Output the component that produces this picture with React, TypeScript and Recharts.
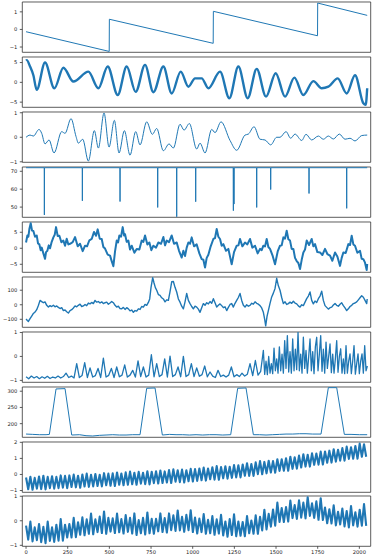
import { LineChart, Line, XAxis, YAxis, ReferenceArea } from "recharts";

type Pt = { x: number; y: number };

const X_TICKS = [0, 250, 500, 750, 1000, 1250, 1500, 1750, 2000];
const X_DOMAIN: [number, number] = [-22.4, 2068];

// panel 1: sawtooth
const p1Trace: [number, number][] = [
  [0, -0.13], [499, -1.25], [500, 0.58], [1123, -0.79], [1124, 1.03],
  [1749, -0.36], [1750, 1.5], [2047, 0.8],
];

// panel 2: noisy oscillation, read as its peaks and troughs
const p2Trace: [number, number][] = [
  [0, 5.5], [4, 5.6], [24, 4.0], [44, 1.8], [64, -1.9], [114, 5.0], [170, -1.5],
  [224, 3.7], [284, 0.2], [374, 2.7], [434, -1.5], [490, 4.0], [550, -3.2], [604, 4.0],
  [658, -2.4], [714, 4.4], [764, -2.5], [824, 4.0], [874, -2.8], [928, 2.7], [974, -1.1],
  [1014, 1.0], [1054, 1.0], [1094, -1.5], [1164, 2.7], [1220, -4.0], [1274, 4.0],
  [1330, -4.0], [1384, 3.4], [1440, -3.6], [1498, 2.3], [1554, -3.6], [1610, 1.2],
  [1664, -3.2], [1724, 0.3], [1774, -1.5], [1814, -1.1], [1870, 1.0], [1924, -2.8],
  [1974, 1.8], [2024, -5.3], [2038, -5.7], [2047, -1.5],
];

// panel 3: smooth wavelet-like signal (extrema)
const p3Trace: [number, number][] = [
  [0, 0], [24, 0.09], [44, 0.05], [78, 0.32], [94, 0.16], [114, -0.27], [138, -0.11],
  [168, -0.64], [214, 0.23], [234, 0.16], [270, 0.76], [300, 0.03], [314, -0.24],
  [340, -0.08], [374, -0.97], [410, 0.27], [434, -0.44], [468, 0.99], [498, -0.4],
  [530, 0.69], [558, -0.64], [590, 0.27], [624, -0.73], [658, 0.23], [684, -0.31],
  [724, 0.63], [758, 0.12], [784, 0.36], [824, -0.55], [858, -0.27], [884, -0.44],
  [924, 0.53], [948, 0.29], [980, 0.56], [1024, -0.48], [1044, -0.24], [1074, -0.64],
  [1114, 0.32], [1134, 0.19], [1170, 0.63], [1224, -0.13], [1264, -0.53], [1314, 0.09],
  [1334, 0.13], [1368, 0.43], [1404, -0.08], [1434, -0.11], [1468, -0.31], [1504, 0],
  [1524, 0], [1560, 0.23], [1588, -0.04], [1614, 0.13], [1654, -0.13], [1680, 0.12],
  [1714, -0.11], [1754, 0.05], [1784, -0.08], [1814, 0.05], [1844, -0.07], [1880, 0.13],
  [1914, -0.08], [1944, -0.04], [1974, -0.15], [2014, 0.07], [2047, 0.09],
];

// panel 4: flat level with single-sample drops
const p4Level = 72;
const p4SpikeX = [110, 338, 564, 790, 904, 1018, 1244, 1248, 1384, 1468, 1698, 1924];
const p4SpikeY = [45.6, 53.5, 53.1, 49.8, 44.6, 53, 48, 51.7, 49.8, 59.8, 57.6, 49.3];

// panel 5: random walk
const p5Trace: [number, number][] = [
  [0, 1.8], [8, 4.0], [14, 3.6], [20, 6.0], [28, 7.8], [36, 5.5], [44, 5.4], [54, 3.6],
  [64, 4.0], [72, 1.5], [80, 1.2], [88, -0.6], [94, 0.2], [104, -1.6], [114, -3.3],
  [120, -1.2], [128, -0.8], [136, 0.9], [144, 0.0], [154, 2.0], [164, 3.4], [172, 4.2],
  [180, 6.6], [190, 3.8], [200, 3.9], [212, 1.9], [224, 2.4], [234, 0.8], [244, 3.0],
  [254, 1.2], [264, 1.4], [280, 1.9], [294, 3.5], [310, 0.6], [324, 1.4], [340, -0.9],
  [354, 0.8], [366, 0.6], [380, 2.5], [394, 2.9], [408, 5.1], [420, 3.9], [430, 5.9],
  [442, 3.0], [454, 2.9], [464, 0.4], [474, -0.1], [490, -2.0], [504, -2.3], [514, -4.0],
  [524, -5.6], [534, -1.0], [544, 2.4], [552, 1.8], [560, 4.0], [570, 3.6], [580, 6.6],
  [588, 4.0], [594, 4.4], [604, 2.0], [614, 2.4], [624, -0.4], [634, 0.8], [650, -1.4],
  [664, -0.2], [680, -0.4], [694, 2.4], [704, 2.0], [714, 4.0], [728, 1.2], [740, 1.8],
  [752, -0.6], [764, 0.8], [780, 0.2], [794, 1.8], [810, 1.4], [824, 3.5], [834, 0.9],
  [844, 2.4], [858, 1.9], [874, 4.0], [888, 1.4], [904, 1.8], [918, -0.8], [934, -2.9],
  [944, -0.8], [954, -2.4], [964, 0.2], [974, 1.8], [984, 1.4], [994, 3.4], [1008, 0.6],
  [1024, 1.2], [1040, -1.6], [1054, -3.4], [1064, -3.6], [1074, -6.0], [1084, -3.0],
  [1094, -2.0], [1108, 0.6], [1124, 2.9], [1134, 3.2], [1144, 6.0], [1154, 3.6],
  [1164, 2.9], [1174, 0.8], [1184, 1.3], [1200, -0.8], [1214, -0.2], [1224, -2.6],
  [1234, -5.0], [1248, -1.2], [1264, 0.8], [1274, 0.9], [1284, 2.9], [1298, 0.6],
  [1314, 1.8], [1328, 1.2], [1344, 2.9], [1358, 0.2], [1374, 0.8], [1390, -1.6],
  [1404, -0.2], [1414, -0.6], [1424, 0.8], [1434, 0.6], [1444, 2.9], [1454, 0.4],
  [1464, -0.2], [1480, -2.4], [1494, -5.0], [1510, -1.0], [1524, 0.8], [1534, 0.9],
  [1544, 3.4], [1554, 3.0], [1564, 5.5], [1574, 2.8], [1584, 2.4], [1594, -0.2],
  [1604, -0.2], [1614, -3.0], [1624, -4.0], [1634, -4.6], [1644, -6.5], [1654, -3.6],
  [1664, -1.3], [1674, -0.4], [1684, 2.4], [1698, 1.0], [1714, 2.9], [1724, 0.6],
  [1734, 1.3], [1748, -1.2], [1764, -1.3], [1778, -2.1], [1794, -0.2], [1808, -1.8],
  [1824, -2.3], [1838, -3.9], [1854, -1.3], [1868, -2.6], [1884, -5.5], [1894, -3.0],
  [1904, -1.3], [1918, -1.5], [1934, 1.3], [1944, 1.0], [1954, 3.9], [1964, 1.2],
  [1974, 0.8], [1988, -1.4], [2004, -0.8], [2014, -3.3], [2024, -3.4], [2034, -4.5],
  [2044, -6.8], [2047, -4.9],
];

// panel 6: drifting series with bursts
const p6Trace: [number, number][] = [
  [0, -98], [8, -108], [14, -115], [24, -96], [34, -78], [44, -60], [54, -50], [64, -34],
  [74, -5], [84, 30], [94, 22], [104, 14], [114, 20], [124, -4], [134, -16], [144, -6],
  [154, -12], [164, -3], [174, -14], [184, -8], [194, -18], [204, -26], [214, -20],
  [224, -40], [234, -36], [244, -48], [254, -57], [264, -40], [274, -34], [284, -22],
  [294, -8], [304, -14], [314, -4], [324, 4], [334, -12], [344, -8], [354, 2], [364, -6],
  [374, 12], [384, 6], [394, 16], [404, 8], [414, 30], [424, 18], [434, 22], [444, 12],
  [454, 20], [464, 8], [474, 14], [484, 18], [494, 4], [504, 12], [514, 22], [524, 14],
  [534, -4], [544, -16], [554, -10], [564, -26], [574, -28], [584, -18], [594, -32],
  [604, -20], [614, -28], [624, -42], [634, -36], [644, -52], [654, -40], [664, -44],
  [674, -28], [684, -32], [694, -12], [704, -16], [714, 2], [724, -4], [734, 16],
  [742, 40], [750, 120], [760, 186], [768, 150], [776, 118], [784, 100], [794, 70],
  [804, 64], [814, 48], [824, 40], [834, 20], [844, 34], [854, 30], [864, 90], [874, 158],
  [884, 160], [894, 120], [904, 88], [914, 40], [924, 18], [934, -10], [944, -28],
  [954, 20], [964, 78], [974, 30], [984, 8], [994, -12], [1004, -28], [1014, -10],
  [1024, -16], [1034, -30], [1044, -52], [1054, -20], [1064, 8], [1074, -4], [1084, 14],
  [1094, 6], [1104, 22], [1114, 10], [1124, 42], [1134, 14], [1144, -16], [1154, -4],
  [1164, 6], [1174, -6], [1184, -20], [1194, -14], [1204, -40], [1214, -18], [1224, 2],
  [1234, 8], [1244, -16], [1254, 10], [1264, 30], [1274, 50], [1284, 78], [1294, 30],
  [1304, -4], [1314, -16], [1324, 0], [1334, -10], [1344, -4], [1354, 10], [1364, 4],
  [1374, 20], [1384, 10], [1394, 4], [1404, -6], [1414, -22], [1424, -52], [1432, -100],
  [1438, -145], [1446, -80], [1454, -40], [1464, 10], [1474, 54], [1484, 80], [1494, 112],
  [1504, 182], [1514, 130], [1524, 100], [1534, 50], [1544, 8], [1554, 20], [1564, 2],
  [1574, 8], [1584, 18], [1594, 10], [1604, 24], [1614, 12], [1624, 6], [1634, -8],
  [1644, -16], [1654, 0], [1664, -6], [1674, 18], [1684, 42], [1694, 60], [1704, 88],
  [1714, 30], [1724, 6], [1734, 26], [1744, 16], [1754, 42], [1764, 60], [1774, 94],
  [1784, 30], [1794, -6], [1804, -18], [1814, -30], [1824, -20], [1834, -16], [1844, -2],
  [1854, 8], [1864, -4], [1874, -10], [1884, 4], [1894, 14], [1904, -6], [1914, -22],
  [1924, -40], [1934, -28], [1944, -12], [1954, -4], [1964, 8], [1974, 12], [1984, 20],
  [1994, 34], [2004, 48], [2014, 62], [2024, 52], [2034, 30], [2044, 8], [2047, 40],
];

// panel 7: quiet baseline with sparse spikes (every 16), then a dense burst (every 8 from 1432)
const p7QuietY = [
  -0.85, -0.93, -0.82, -0.9, -0.84, -0.93, -0.85, -0.91, -0.83, -0.92,
  -0.86, -0.9, -0.82, -0.9, -0.84, -0.7, -0.88, -0.82, -0.9, -0.3,
  -0.88, -0.8, -0.26, -0.88, -0.48, -0.86, -0.8, -0.5, -0.88, -0.07,
  -0.86, -0.79, -0.5, -0.88, -0.44, -0.85, -0.78, -0.35, -0.86, -0.78,
  -0.58, -0.86, -0.19, -0.84, -0.44, -0.86, -0.78, 0.07, -0.85, -0.3,
  -0.84, -0.76, -0.1, -0.86, 0.01, -0.84, -0.76, -0.44, -0.85, 0.0,
  -0.84, -0.76, -0.3, -0.84, -0.48, -0.83, -0.76, -0.4, -0.85, -0.65,
  -0.82, -0.88, -0.58, -0.84, -0.78, -0.86, -0.78, -0.44, -0.85, -0.76,
  -0.84, -0.7, -0.82, -0.74, -0.3, -0.8, -0.17, -0.78, -0.62, 0.25,
];
const p7BurstStart = 1432;
const p7BurstY = [
  -0.75, -0.2, -0.76, 0.0, -0.7, -0.3, -0.72, 0.35, -0.6, -0.1,
  -0.7, 0.4, -0.6, 0.1, -0.7, 0.66, -0.5, 0.87, -0.65, 0.2,
  -0.7, 0.73, -0.6, 0.3, -0.55, 1.0, -0.6, 0.1, -0.7, 0.8,
  -0.5, 0.25, -0.7, 0.0, 0.73, -0.6, 0.2, -0.72, 0.4, 0.8,
  -0.6, 0.1, 0.87, -0.62, 0.3, -0.7, 0.6, -0.5, 0.0, 0.52,
  -0.68, 0.1, -0.7, -0.1, 0.66, -0.66, 0.0, 0.32, -0.7, -0.1,
  -0.72, 0.45, -0.7, -0.2, 0.11, -0.72, -0.2, 0.45, -0.74, -0.3,
  0.11, -0.72, -0.2, 0.11, -0.7, 0.45, -0.6, -0.4,
];

// panel 8: plateaus
const p8Trace: [number, number][] = [
  [0, 168], [40, 167], [80, 166], [120, 166], [140, 167], [180, 307], [234, 308],
  [274, 165], [320, 166], [360, 163], [400, 162], [440, 164], [480, 165], [520, 166],
  [560, 165], [600, 165], [640, 166], [684, 166], [724, 309], [774, 310], [818, 165],
  [860, 167], [900, 166], [940, 166], [980, 165], [1020, 166], [1060, 165], [1100, 166],
  [1140, 166], [1180, 165], [1228, 166], [1270, 309], [1320, 310], [1364, 166],
  [1400, 166], [1440, 165], [1480, 166], [1520, 167], [1560, 168], [1600, 168],
  [1640, 169], [1680, 169], [1720, 168], [1770, 168], [1814, 311], [1864, 311],
  [1910, 167], [1950, 167], [2000, 166], [2047, 166],
];

// panel 9: trend + fast oscillation, one value every 13 samples
const p9Y = [
  -0.19, -0.92, -0.14, -0.95, -0.21, -0.88, -0.13, -0.91, -0.08, -0.93,
  -0.15, -0.85, -0.11, -0.88, -0.15, -0.85, -0.06, -0.82, -0.09, -0.85,
  -0.06, -0.78, -0.01, -0.8, -0.08, -0.83, 0.0, -0.75, 0.05, -0.77,
  -0.02, -0.74, 0.03, -0.72, -0.02, -0.74, 0.08, -0.67, 0.05, -0.7,
  0.07, -0.72, 0.12, -0.64, 0.06, -0.67, 0.13, -0.64, 0.18, -0.61,
  0.11, -0.64, 0.16, -0.57, 0.11, -0.6, 0.2, -0.62, 0.17, -0.54,
  0.2, -0.56, 0.25, -0.53, 0.19, -0.5, 0.27, -0.53, 0.32, -0.45,
  0.26, -0.48, 0.3, -0.5, 0.26, -0.42, 0.35, -0.44, 0.33, -0.4,
  0.37, -0.36, 0.43, -0.38, 0.37, -0.3, 0.45, -0.32, 0.52, -0.33,
  0.46, -0.24, 0.51, -0.26, 0.48, -0.21, 0.58, -0.18, 0.57, -0.18,
  0.62, -0.08, 0.7, -0.09, 0.65, -0.09, 0.75, 0.02, 0.83, 0.01,
  0.78, 0.07, 0.85, 0.12, 0.83, 0.11, 0.95, 0.22, 0.95, 0.23,
  1.01, 0.23, 1.1, 0.35, 1.07, 0.36, 1.17, 0.43, 1.26, 0.49,
  1.23, 0.49, 1.31, 0.6, 1.3, 0.61, 1.42, 0.62, 1.43, 0.73,
  1.48, 0.74, 1.57, 0.8, 1.54, 0.86, 1.64, 0.86, 1.73, 0.97,
  1.69, 0.98, 1.77, 0.98, 1.92, 1.1, 1.88, 1.1,
];

// panel 10: slow wave + fast oscillation, one value every 13 samples
const p10Y = [
  -0.2, -0.77, -0.03, -0.84, -0.27, -0.79, -0.13, -0.87, -0.25, -0.91,
  -0.03, -0.82, -0.27, -0.86, -0.16, -0.81, 0.07, -0.81, -0.16, -0.68,
  -0.13, -0.68, 0.12, -0.67, -0.06, -0.57, 0.14, -0.59, 0.06, -0.53,
  0.29, -0.55, 0.06, -0.46, 0.17, -0.5, 0.38, -0.53, 0.12, -0.44,
  0.1, -0.5, 0.29, -0.47, 0.07, -0.52, 0.23, -0.45, 0.12, -0.52,
  0.3, -0.58, 0.03, -0.51, 0.12, -0.56, 0.34, -0.51, 0.08, -0.53,
  0.08, -0.43, 0.3, -0.46, 0.11, -0.48, 0.3, -0.38, 0.22, -0.41,
  0.42, -0.39, 0.16, -0.45, 0.24, -0.38, 0.43, -0.46, 0.13, -0.52,
  0.09, -0.46, 0.27, -0.53, 0.04, -0.51, 0.19, -0.57, 0.06, -0.52,
  0.24, -0.6, -0.03, -0.65, 0.07, -0.58, 0.26, -0.63, -0.03, -0.61,
  -0.05, -0.63, 0.19, -0.51, 0.01, -0.53, 0.22, -0.53, 0.16, -0.39,
  0.45, -0.35, 0.28, -0.24, 0.46, -0.2, 0.74, -0.05, 0.52, -0.05,
  0.56, -0.03, 0.82, 0.11, 0.64, 0.08, 0.83, 0.13, 0.74, 0.1,
  0.96, 0.2, 0.71, 0.12, 0.79, 0.04, 0.92, 0.03, 0.54, -0.1,
  0.47, -0.11, 0.63, -0.19, 0.37, -0.15, 0.5, -0.23, 0.4, -0.27,
  0.6, -0.19, 0.35, -0.24, 0.45, -0.2, 0.68, -0.21,
];

const fromPairs = (pairs: [number, number][]): Pt[] => pairs.map(([x, y]) => ({ x, y }));
const stepped = (ys: number[], step: number, start = 0): Pt[] =>
  ys.map((y, i) => ({ x: start + i * step, y }));

const spikes = (): Pt[] => {
  const out: Pt[] = [{ x: 0, y: p4Level }];
  p4SpikeX.forEach((x, i) => {
    out.push({ x: x - 1, y: p4Level }, { x, y: p4SpikeY[i] }, { x: x + 1, y: p4Level });
  });
  out.push({ x: 2047, y: p4Level });
  return out;
};

type PanelCfg = {
  data: Pt[];
  domain: [number, number];
  ticks: number[];
  curve?: "monotone" | "linear";
  sw: number;
};

const panels: PanelCfg[] = [
  { data: fromPairs(p1Trace), domain: [-1.3, 1.56], ticks: [-1, 0, 1], sw: 1 },
  { data: fromPairs(p2Trace), domain: [-6.3, 6.4], ticks: [-5, 0, 5], curve: "monotone", sw: 2.4 },
  { data: fromPairs(p3Trace), domain: [-1.02, 1.03], ticks: [-1, 0, 1], curve: "monotone", sw: 1 },
  { data: spikes(), domain: [44.3, 72.4], ticks: [50, 60, 70], sw: 1 },
  { data: fromPairs(p5Trace), domain: [-7.5, 8.2], ticks: [-5, 0, 5], sw: 2 },
  { data: fromPairs(p6Trace), domain: [-155, 191], ticks: [-100, 0, 100], sw: 1.4 },
  {
    data: [...stepped(p7QuietY, 16), ...stepped(p7BurstY, 8, p7BurstStart)],
    domain: [-1.08, 1.02],
    ticks: [-1, 0, 1],
    sw: 1.3,
  },
  { data: fromPairs(p8Trace), domain: [158, 313], ticks: [200, 250, 300], sw: 1 },
  { data: stepped(p9Y, 13), domain: [-1.11, 2.02], ticks: [-1, 0, 1, 2], sw: 2.1 },
  { data: stepped(p10Y, 13), domain: [-1.04, 1.01], ticks: [-1, 0, 1], sw: 2.1 },
];

const fmt = (v: number) => (v < 0 ? "\u2212" + Math.abs(v) : String(v));
const tickFont = { fontSize: 5.2, fill: "#222", fontFamily: "DejaVu Sans" };
const frame = "#333";

export default function App() {
  return (
    <div style={{ position: "absolute", left: 0, top: 0, width: 373, height: 559, background: "#fff" }}>
      {panels.map((p, i) => {
        const last = i === panels.length - 1;
        const xh = last ? 14 : 4;
        return (
          <div key={i} style={{ position: "absolute", left: 0, top: 2.3 + i * 54.9 - 3 }}>
            <LineChart
              width={373}
              height={3 + 50.3 + xh}
              data={p.data}
              margin={{ top: 3, right: 2.3, bottom: 0, left: 0 }}
            >
              <XAxis
                type="number"
                dataKey="x"
                domain={X_DOMAIN}
                ticks={X_TICKS}
                interval={0}
                allowDataOverflow
                axisLine={false}
                tickLine={{ stroke: frame, strokeWidth: 0.8 }}
                tickSize={2.5}
                tickMargin={1.5}
                height={xh}
                tick={last ? tickFont : false}
              />
              <YAxis
                type="number"
                domain={p.domain}
                ticks={p.ticks}
                interval={0}
                allowDataOverflow
                axisLine={false}
                tickLine={{ stroke: frame, strokeWidth: 0.8 }}
                tickSize={2.5}
                tickMargin={2.5}
                width={22.3}
                tick={tickFont}
                tickFormatter={fmt}
              />
              <Line
                dataKey="y"
                type={p.curve ?? "linear"}
                stroke="#1f77b4"
                strokeWidth={p.sw}
                strokeLinejoin="round"
                dot={false}
                isAnimationActive={false}
              />
              <ReferenceArea
                x1={X_DOMAIN[0]}
                x2={X_DOMAIN[1]}
                y1={p.domain[0]}
                y2={p.domain[1]}
                fill="none"
                stroke={frame}
                strokeWidth={0.8}
                ifOverflow="visible"
              />
            </LineChart>
          </div>
        );
      })}
    </div>
  );
}
